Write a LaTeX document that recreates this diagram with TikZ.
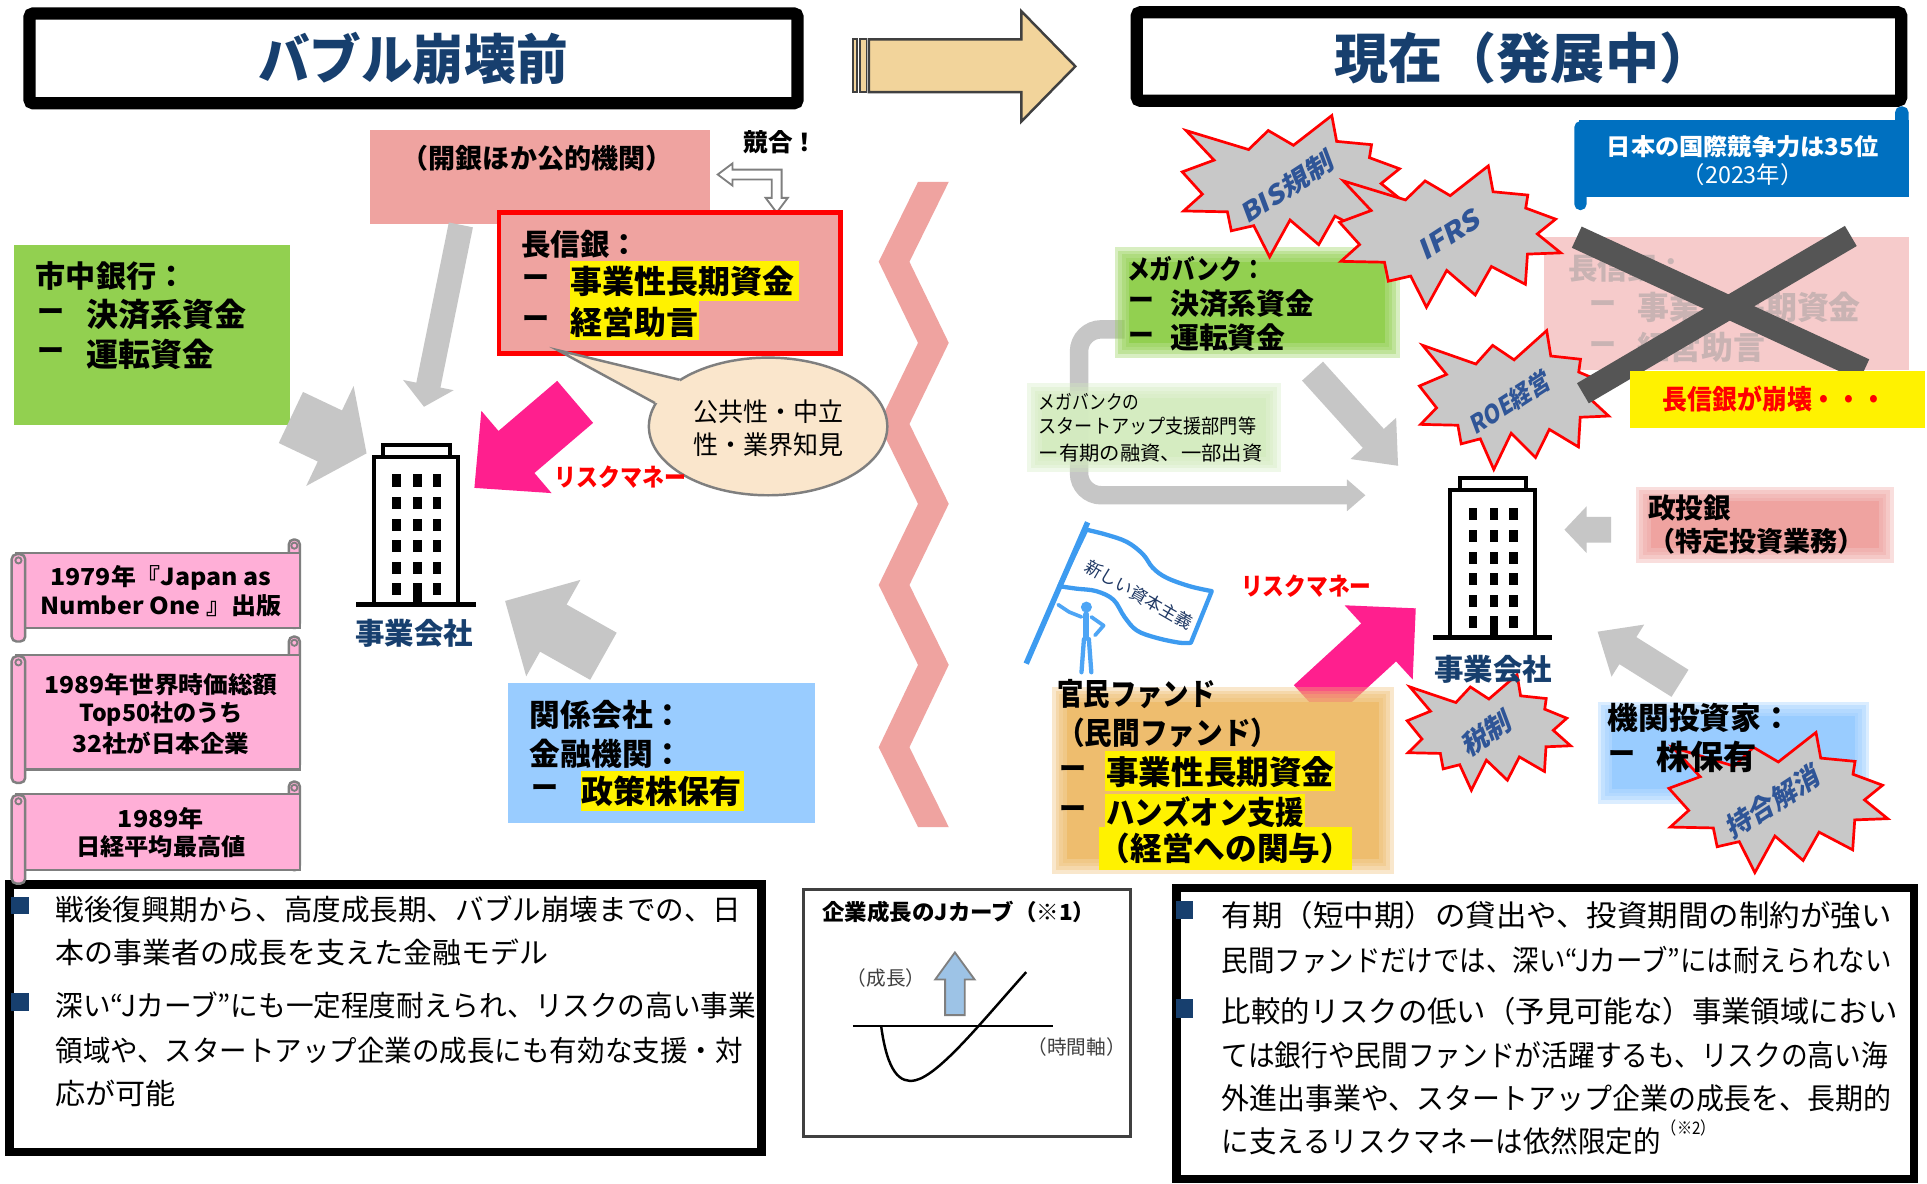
\documentclass[tikz,border=0pt]{standalone}
\usepackage{fontspec}
\setmainfont{Noto Sans CJK JP}
\usepackage{graphicx}

\definecolor{navy}{HTML}{173F6E}
\definecolor{salmon}{HTML}{EFA3A0}
\definecolor{grn}{HTML}{92D050}
\definecolor{lgrn}{HTML}{D4ECC0}
\definecolor{orng}{HTML}{EEBD6E}
\definecolor{lblue}{HTML}{99CCFF}
\definecolor{mag}{HTML}{FF1F8E}
\definecolor{spink}{HTML}{FFAFD7}
\definecolor{sgray}{HTML}{7F7F7F}
\definecolor{sblue}{HTML}{0070C0}
\definecolor{fadedbox}{HTML}{F6CBCB}
\definecolor{fadedtxt}{HTML}{C9B3B3}
\definecolor{xgray}{HTML}{555555}
\definecolor{bubble}{HTML}{FAE6CC}
\definecolor{tan}{HTML}{F2D49B}
\definecolor{dgray}{HTML}{404040}
\definecolor{mgray}{HTML}{7F7F7F}
\definecolor{arrgray}{HTML}{C6C6C6}
\definecolor{starfill}{HTML}{C8C8C8}
\definecolor{starblue}{HTML}{2F5597}
\definecolor{flagblue}{HTML}{3D9BF0}
\definecolor{figblue}{HTML}{4EA5F5}
\definecolor{jblue}{HTML}{9DC3E6}
\definecolor{flagtxt}{HTML}{1F3864}

\newcommand\fs[1]{\fontsize{#1}{#1}\selectfont}
\newcommand\fitw[2]{\resizebox{#1pt}{\height}{#2}}

% block arrow: tail x,y; tip x,y; shaft half width; head half width; head length; colour
\newcommand\blockarr[8]{%
  \pgfmathsetmacro\baAng{atan2(-(#4)+(#2),(#3)-(#1))}%
  \pgfmathsetmacro\baLen{veclen((#3)-(#1),(#4)-(#2))}%
  \pgfmathsetmacro\baBase{\baLen-(#7)}%
  \fill[#8,shift={(#1,#2)},rotate=\baAng] (0,-#5) -- (\baBase,-#5) -- (\baBase,-#6)
    -- (\baLen,0) -- (\baBase,#6) -- (\baBase,#5) -- (0,#5) -- cycle;}

% box with soft edges: colour, x1,y1,x2,y2, opacity of the core
\newcommand\softbox[6]{%
  \fill[#1, opacity=0.35] (#2-6,#3-6) rectangle (#4+6,#5+6);
  \fill[#1, opacity=0.35] (#2-3,#3-3) rectangle (#4+3,#5+3);
  \fill[#1, opacity=0.35] (#2,#3) rectangle (#4,#5);
  \fill[#1, opacity=0.35] (#2+3,#3+3) rectangle (#4-3,#5-3);
  \fill[#1, opacity=#6] (#2+6,#3+6) rectangle (#4-6,#5-6);}

% explosion shape inside the box x,y,w,h
\newcommand\explosion[4]{%
  \filldraw[fill=starfill, draw=red, line width=2.2pt, line join=miter,
    shift={(#1,#2)}, xscale=#3, yscale=#4]
  (0.5,0.2106) -- (0.6723,0) -- (0.694,0.183) -- (0.8509,0.2063) -- (0.8415,0.2984)
  -- (0.9767,0.3767) -- (0.8939,0.4813) -- (1,0.6153) -- (0.8494,0.624) -- (0.8400,0.8377)
  -- (0.6864,0.7116) -- (0.6133,0.9137) -- (0.4845,0.7393) -- (0.3928,1) -- (0.3215,0.7794)
  -- (0.2205,0.8156) -- (0.203,0.6815) -- (0.00625,0.6753) -- (0.0904,0.5564) -- (0,0.3988)
  -- (0.1428,0.3158) -- (0.0171,0.1063) -- (0.2981,0.2408) -- (0.3867,0.1063) -- cycle;}

% office building icon, body top-left at x,y
\newcommand\building[2]{%
  \begin{scope}[shift={(#1,#2)}]
    \filldraw[fill=white, draw=black, line width=3.2pt] (8,-10) rectangle (62,0);
    \filldraw[fill=white, draw=black, line width=3.2pt] (0,0) rectangle (69,120);
    \foreach \wx in {15,32,48}{\foreach \wy in {14,32,50,67,85,102}{\fill (\wx,\wy) rectangle ++(7,10);}}
    \fill (32,102) rectangle (39,120);
    \draw[line width=4pt] (-14,120) -- (83,120);
  \end{scope}}

% horizontal scroll: left x, top, right, bottom, fill, curl height, roll width, outline
\newcommand\scroll[8]{%
  \filldraw[fill=#5, draw=#8, line width=2pt, rounded corners=4pt] (#3-9,#2-#6) rectangle (#3,#4);
  \filldraw[fill=#5, draw=#8, line width=2pt] (#1+4,#2) rectangle (#3,#4);
  \draw[#8, line width=1.5pt] (#3-4.5,#2-#6+5) circle[radius=2.5pt];
  \filldraw[fill=#5, draw=#8, line width=2pt, rounded corners=4pt] (#1,#2+1) rectangle (#1+#7,#4+11);
  \draw[#8, line width=1.5pt] (#1+#7/2,#2+6) circle[radius=2.5pt];}

\tikzset{
  lbl/.style={inner sep=0pt, anchor=west},
  lblc/.style={inner sep=0pt},
  burstlabel/.style={inner sep=0pt, text=starblue, rotate=33, xslant=0.22},
}

\begin{document}
\begin{tikzpicture}[x=1pt,y=-1pt]
\useasboundingbox (0,0) rectangle (1568,963);
\fill[white] (0,0) rectangle (1568,963);

% ---- divider band ----
\fill[salmon] (747,148) -- (715,213) -- (747,279) -- (715,345) -- (747,410) -- (715,476)
  -- (747,541) -- (715,608) -- (747,673) -- (772,673) -- (740,608) -- (772,541) -- (740,476)
  -- (772,410) -- (740,345) -- (772,279) -- (740,213) -- (772,148) -- cycle;

% ---- titles ----
\draw[line width=10pt, fill=white, rounded corners=3pt] (24,11) rectangle (649,84);
\node[lblc, font=\bfseries\fs{44}, text=navy] (ttlL) at (336,48) {\fitw{252}{バブル崩壊前}};
\draw[line width=10pt, fill=white, rounded corners=3pt] (925,10) rectangle (1547,82);
\node[lblc, font=\bfseries\fs{44}, text=navy] (ttlR) at (1240,47) {現在（発展中）};

% transition arrow
\filldraw[fill=tan, draw=dgray, line width=2pt] (707,32) -- (831,32) -- (831,9) -- (875,54)
  -- (831,99) -- (831,75) -- (707,75) -- cycle;
\filldraw[fill=tan, draw=dgray, line width=1.5pt] (694,32) rectangle (697,75);
\filldraw[fill=tan, draw=dgray, line width=1.5pt] (700,32) rectangle (705,75);

% ================= before the bubble =================
% public institutions
\fill[salmon] (301,106) rectangle (578,182);
\node[lblc, font=\bfseries\fs{22}] (kaigin) at (437,129) {（開銀ほか公的機関）};
\node[lblc, font=\bfseries\fs{20}] (kyogo) at (635,116) {競合！};
\filldraw[fill=white, draw=mgray, line width=1.5pt] (584,142) -- (596,133) -- (596,138)
  -- (636,138) -- (636,161) -- (641,161) -- (632,173) -- (623,161) -- (628,161)
  -- (628,146) -- (596,146) -- (596,151) -- cycle;

% long-term credit banks
\filldraw[fill=salmon, draw=red, line width=4pt] (406,173) rectangle (684,288);
\node[lbl, font=\bfseries\fs{24}] (chosh) at (424,199) {長信銀：};
\fill[yellow] (464,212) rectangle (650,245);
\fill[yellow] (464,245) rectangle (569,277);
\node[lbl, font=\bfseries\fs{22}] (chd1) at (425,229) {ー};
\node[lbl, font=\bfseries\fs{26}] (chi1) at (464,229) {事業性長期資金};
\node[lbl, font=\bfseries\fs{22}] (chd2) at (425,262) {ー};
\node[lbl, font=\bfseries\fs{26}] (chi2) at (464,262) {経営助言};

% speech bubble
\filldraw[fill=bubble, draw=mgray, line width=2pt] (625,347) ellipse [x radius=97pt, y radius=56pt];
\fill[bubble] (454,285) -- (553,309) -- (560,326) -- (533,328) -- cycle;
\draw[mgray, line width=2pt] (553,309) -- (454,285) -- (533,328);
\node[lblc, font=\fs{21}] (bub1) at (625,335) {\fitw{122}{公共性・中立}};
\node[lblc, font=\fs{21}] (bub2) at (625,362) {\fitw{122}{性・業界知見}};

% city banks
\fill[grn] (11,199) rectangle (236,346);
\node[lbl, font=\bfseries\fs{24.5}] (city) at (29,225) {市中銀行：};
\node[lbl, font=\bfseries\fs{22}] (cityd1) at (30,256) {ー};
\node[lbl, font=\bfseries\fs{26}] (cityi1) at (70,256) {決済系資金};
\node[lbl, font=\bfseries\fs{22}] (cityd2) at (30,288) {ー};
\node[lbl, font=\bfseries\fs{26}] (cityi2) at (70,288) {運転資金};

% arrows into the company
\blockarr{375}{183}{345}{331}{10}{21}{18}{arrgray}
\blockarr{236.7}{339.7}{298.3}{368.9}{23}{45}{33}{arrgray}
\blockarr{491}{534}{411}{489}{22}{45}{45}{arrgray}
\blockarr{468}{327}{386}{397}{22.5}{44}{45}{mag}
\node[lblc, font=\bfseries\fs{20}, text=red] (rmL) at (505,388) {\fitw{107}{リスクマネー}};

\building{304}{372}
\node[lblc, font=\bfseries\fs{24}, text=navy] (bizL) at (337,515) {事業会社};

% affiliated companies
\fill[lblue] (413,556) rectangle (663,670);
\node[lbl, font=\bfseries\fs{25}] (kan1) at (431,582) {関係会社：};
\node[lbl, font=\bfseries\fs{25}] (kan2) at (431,613) {金融機関：};
\fill[yellow] (473,627) rectangle (605,660);
\node[lbl, font=\bfseries\fs{22}] (kand) at (432,644) {ー};
\node[lbl, font=\bfseries\fs{26}] (kan3) at (473,644) {政策株保有};

% bottom-left summary
\draw[line width=7pt, fill=white] (7.5,719.5) rectangle (619.5,937.5);
\fill[navy] (9,730) rectangle (24,744);
\fill[navy] (9,808) rectangle (24,823);
\node[lbl, font=\fs{23.5}] (bl1) at (45,740) {\fitw{558}{戦後復興期から、高度成長期、バブル崩壊までの、日}};
\node[lbl, font=\fs{23.5}] (bl2) at (45,775) {\fitw{401}{本の事業者の成長を支えた金融モデル}};
\node[lbl, font=\fs{23.5}] (bl3) at (45,818) {\fitw{570}{深い“Jカーブ”にも一定程度耐えられ、リスクの高い事業}};
\node[lbl, font=\fs{23.5}] (bl4) at (45,855) {\fitw{559}{領域や、スタートアップ企業の成長にも有効な支援・対}};
\node[lbl, font=\fs{23.5}] (bl5) at (45,890) {\fitw{98}{応が可能}};

% history scrolls
\scroll{9.5}{450}{244}{511}{spink}{11}{11}{sgray}
\node[lblc, font=\bfseries\fs{19}] (sc1a) at (131,470) {\fitw{180}{1979年『Japan as}};
\node[lblc, font=\bfseries\fs{19}] (sc1b) at (131,493) {\fitw{196}{Number One 』出版}};
\scroll{9.5}{533}{244}{626}{spink}{15}{11}{sgray}
\node[lblc, font=\bfseries\fs{19}] (sc2a) at (131,557) {\fitw{190}{1989年世界時価総額}};
\node[lblc, font=\bfseries\fs{19}] (sc2b) at (131,581) {\fitw{133}{Top50社のうち}};
\node[lblc, font=\bfseries\fs{19}] (sc2c) at (131,605) {\fitw{144}{32社が日本企業}};
\scroll{9.5}{646}{244}{708}{spink}{10}{11}{sgray}
\node[lblc, font=\bfseries\fs{19}] (sc3a) at (131,666) {\fitw{70}{1989年}};
\node[lblc, font=\bfseries\fs{19}] (sc3b) at (131,689) {\fitw{138}{日経平均最高値}};

% J-curve panel
\draw[dgray, line width=2.5pt, fill=white] (654,724) rectangle (920,925);
\node[lbl, font=\bfseries\fs{18}] (jttl) at (669,742) {\fitw{222}{企業成長のJカーブ（※1）}};
\node[lblc, font=\fs{16}, text=dgray] (jgrow) at (721,796) {（成長）};
\filldraw[fill=jblue, draw=mgray, line width=1.5pt] (769,826) -- (785,826) -- (785,797)
  -- (793,797) -- (777,775) -- (761,797) -- (769,797) -- cycle;
\draw[line width=1.5pt] (694,835) -- (857,835);
\node[lblc, font=\fs{16}, text=dgray] (jtime) at (876,852) {（時間軸）};
\draw[line width=2pt] (717,835) .. controls (722,872) and (732,882) .. (745,879)
  .. controls (765,874) and (800,830) .. (835,791);

% ================= present =================
% megabank loop
\draw[arrgray, line width=15pt, rounded corners=18pt] (915,268) -- (878,268) -- (878,403) -- (1097,403);
\fill[arrgray] (1096,390) -- (1111,403) -- (1096,416) -- cycle;

\softbox{lgrn}{842}{318}{1036}{378}{0.85}
\node[lbl, font=\fs{16}] (note1) at (845,327) {\fitw{82}{メガバンクの}};
\node[lbl, font=\fs{16}] (note2) at (845,347) {\fitw{177}{スタートアップ支援部門等}};
\node[lbl, font=\fs{16}] (note3) at (845,369) {\fitw{182}{ー有期の融資、一部出資}};

\softbox{grn}{913}{207}{1133}{285}{1}
\node[lbl, font=\bfseries\fs{22}] (mega) at (917,219) {\fitw{112}{メガバンク：}};
\node[lbl, font=\bfseries\fs{21}] (megad1) at (918,247) {ー};
\node[lbl, font=\bfseries\fs{23.5}] (megai1) at (952,247) {決済系資金};
\node[lbl, font=\bfseries\fs{21}] (megad2) at (918,275) {ー};
\node[lbl, font=\bfseries\fs{23.5}] (megai2) at (952,275) {運転資金};

\blockarr{1068}{302}{1137.6}{379}{11.5}{25}{30}{arrgray}

% former long-term credit banks, crossed out
\fill[fadedbox] (1256,193) rectangle (1553,301);
\node[lbl, font=\bfseries\fs{24}, text=fadedtxt] (fch) at (1276,218) {長信銀：};
\node[lbl, font=\bfseries\fs{22}, text=fadedtxt] (fchd1) at (1293,250) {ー};
\node[lbl, font=\bfseries\fs{26}, text=fadedtxt] (fchi1) at (1332,250) {事業性長期資金};
\node[lbl, font=\bfseries\fs{22}, text=fadedtxt] (fchd2) at (1293,283) {ー};
\node[lbl, font=\bfseries\fs{26}, text=fadedtxt] (fchi2) at (1332,283) {経営助言};

\explosion{1155}{269}{154}{113}
\node[burstlabel, font=\bfseries\fs{20}] (tROE) at (1229,327) {\fitw{74}{ROE経営}};

\draw[xgray, line width=19pt] (1283,193) -- (1517,301);
\draw[xgray, line width=19pt] (1506,192) -- (1288,320);

\fill[yellow] (1326,302) rectangle (1566,348);
\node[lblc, font=\bfseries\fs{22}, text=red] (collapse) at (1444,325) {\fitw{182}{長信銀が崩壊・・・}};

% competitiveness ranking
\scroll{1282}{98.6}{1552}{159}{sblue}{11}{8}{sblue}
\node[lblc, font=\bfseries\fs{19}, text=white] (rank1) at (1418,119) {\fitw{221}{日本の国際競争力は35位}};
\node[lblc, font=\fs{19}, text=white] (rank2) at (1418,142) {（2023年）};

\explosion{962}{94}{181}{115}
\node[burstlabel, font=\bfseries\fs{21}] (tBIS) at (1048,152) {\fitw{86}{BIS規制}};
\explosion{1090}{135}{180}{115}
\node[burstlabel, font=\bfseries\fs{22}] (tIFRS) at (1180,190) {\fitw{55}{IFRS}};

\building{1180}{399}
\explosion{1145}{549}{133}{94}
\node[burstlabel, font=\bfseries\fs{22}] (tTax) at (1210,596) {税制};
\node[lblc, font=\bfseries\fs{24}, text=navy] (bizR) at (1215,545) {事業会社};

% development bank
\softbox{salmon}{1337}{402}{1535}{452}{1}
\node[lbl, font=\bfseries\fs{22.5}] (dbj1) at (1341,413) {政投銀};
\node[lbl, font=\bfseries\fs{22}] (dbj2) at (1341,440) {（特定投資業務）};
\blockarr{1311}{431}{1273}{431}{10.5}{19}{18}{arrgray}

% flag and figure
\filldraw[fill=white, draw=flagblue, line width=3.5pt, line join=round]
  plot[smooth, tension=0.6] coordinates {(884,431) (900,435) (917,441) (930,451) (938,462) (949,470) (968,477) (986,481)}
  -- plot[smooth, tension=0.6] coordinates {(969,523) (960,523) (941,519) (925,513) (915,502) (906,488) (892,481) (876,479) (862,477)}
  -- cycle;
\draw[flagblue, line width=4.5pt] (885,425) -- (835,540);
\node[lblc, font=\fs{14}, text=flagtxt, rotate=-30] (flagtext) at (927,484) {新しい資本主義};
\fill[figblue] (884,494) circle[radius=4.5pt];
\draw[figblue, line width=5pt, line cap=round] (884,500) -- (884,519);
\draw[figblue, line width=3.5pt, line cap=round] (882,520) -- (880,547) (886,520) -- (888,547);
\draw[figblue, line width=3pt, line cap=round, line join=round] (880,502) -- (870,498) -- (861,492);
\draw[figblue, line width=3pt, line cap=round, line join=round] (888,502) -- (898,509) -- (891,517);

% public-private funds
\blockarr{1067}{573}{1152}{495}{21}{41}{41}{mag}
\node[lblc, font=\bfseries\fs{20}, text=red] (rmR) at (1063,477) {\fitw{106}{リスクマネー}};
\softbox{orng}{862}{565}{1128}{705}{1}
\node[lbl, font=\bfseries\fs{25}] (fund1) at (860,565) {\fitw{129}{官民ファンド}};
\node[lbl, font=\bfseries\fs{25}] (fund2) at (860,596) {\fitw{180}{（民間ファンド）}};
\fill[yellow] (899,611) rectangle (1086,644);
\fill[yellow] (899,646) rectangle (1062,673);
\fill[yellow] (894,673) rectangle (1100,708);
\node[lbl, font=\bfseries\fs{22}] (fundd1) at (862,628) {ー};
\node[lbl, font=\bfseries\fs{26.5}] (fund3) at (900,628) {事業性長期資金};
\node[lbl, font=\bfseries\fs{22}] (fundd2) at (862,661) {ー};
\node[lbl, font=\bfseries\fs{26}] (fund4) at (900,661) {\fitw{161}{ハンズオン支援}};
\node[lbl, font=\bfseries\fs{26}] (fund5) at (894,690) {\fitw{206}{（経営への関与）}};

% institutional investors
\blockarr{1367}{556}{1300}{514}{13}{25}{29}{arrgray}
\softbox{lblue}{1306}{577}{1515}{648}{1}
\explosion{1358}{596}{178}{114}
\node[burstlabel, font=\bfseries\fs{22}] (tCross) at (1443,652) {\fitw{86}{持合解消}};
\node[lbl, font=\bfseries\fs{25}] (inv1) at (1308,584) {機関投資家：};
\node[lbl, font=\bfseries\fs{22}] (invd) at (1309,616) {ー};
\node[lbl, font=\bfseries\fs{27}] (inv2) at (1348,616) {株保有};

% bottom-right summary
\draw[line width=7pt, fill=white] (957.5,722.5) rectangle (1557.5,959.5);
\fill[navy] (957,733) rectangle (971,748);
\fill[navy] (957,813) rectangle (971,828);
\node[lbl, font=\fs{24}] (br1) at (994,745) {\fitw{545}{有期（短中期）の貸出や、投資期間の制約が強い}};
\node[lbl, font=\fs{24}] (br2) at (994,781) {\fitw{545}{民間ファンドだけでは、深い“Jカーブ”には耐えられない}};
\node[lbl, font=\fs{24}] (br3) at (994,823) {\fitw{550}{比較的リスクの低い（予見可能な）事業領域におい}};
\node[lbl, font=\fs{24}] (br4) at (994,859) {\fitw{542}{ては銀行や民間ファンドが活躍するも、リスクの高い海}};
\node[lbl, font=\fs{24}] (br5) at (994,894) {\fitw{545}{外進出事業や、スタートアップ企業の成長を、長期的}};
\node[lbl, font=\fs{24}] (br6) at (994,929) {\fitw{357}{に支えるリスクマネーは依然限定的}};
\node[lbl, font=\fs{14}] (br6n) at (1352,918) {\fitw{44}{（※2）}};

\end{tikzpicture}
\end{document}
